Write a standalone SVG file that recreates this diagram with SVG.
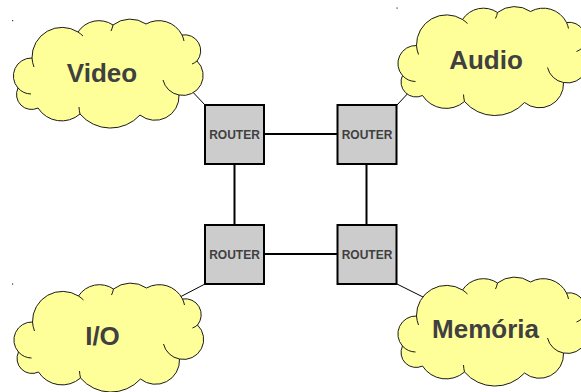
<svg xmlns="http://www.w3.org/2000/svg" xmlns:xlink="http://www.w3.org/1999/xlink" width="581" height="392" viewBox="0 0 581 392">
  <style>
    .cloud { fill: #ffff99; stroke: #1a1a1a; stroke-width: 1; }
    .hook { fill: none; stroke: #1a1a1a; stroke-width: 1; }
    .cloud-label { font-family: "Liberation Sans", Arial, sans-serif; font-weight: bold; font-size: 26px; fill: #404040; text-anchor: middle; }
    .router { fill: #cccccc; stroke: #000000; stroke-width: 2; }
    .router-label { font-family: "Liberation Sans", Arial, sans-serif; font-weight: bold; font-size: 12px; fill: #404040; text-anchor: middle; }
    .link { stroke: #000000; stroke-width: 2; fill: none; }
    .tap { stroke: #000000; stroke-width: 1; fill: none; }
  </style>
  <defs>
    <!-- cloud outline drawn with its top-left at about (12,20) -->
    <g id="cloud">
      <path class="cloud" d="M32,58 A30,30 0 0 1 78,32 A25,25 0 0 1 113,25 A28,28 0 0 1 146,24 A26,26 0 0 1 182,35 A16,16 0 0 1 197,61 A20,20 0 0 1 179,95 A24,24 0 0 1 140,115 A40,40 0 0 1 80,114 A28,28 0 0 1 38,108 A15,15 0 0 1 18,88 A18,18 0 0 1 32,58 Z"/>
      <path class="hook" d="M32,58 A30,30 0 0 0 34,67"/>
      <path class="hook" d="M18,88 A18,18 0 0 0 31,94"/>
      <path class="hook" d="M179,95 A20,20 0 0 1 163,80"/>
      <path class="hook" d="M78,32 A30,30 0 0 1 83,36"/>
      <path class="hook" d="M113,25 A25,25 0 0 1 111,31"/>
      <path class="hook" d="M182,35 A26,26 0 0 1 184,41"/>
      <path class="hook" d="M197,61 A16,16 0 0 1 192,64"/>
      <path class="hook" d="M80,114 A40,40 0 0 1 79,107"/>
    </g>
  </defs>

  <!-- connectors -->
  <g id="connectors">
    <line class="link" x1="264" y1="134" x2="338" y2="134"/>
    <line class="link" x1="264" y1="254" x2="338" y2="254"/>
    <line class="link" x1="234.5" y1="164" x2="234.5" y2="225"/>
    <line class="link" x1="366.5" y1="164" x2="366.5" y2="225"/>
    <line class="tap" x1="205" y1="105" x2="188" y2="87"/>
    <line class="tap" x1="397" y1="105" x2="412" y2="89"/>
    <line class="tap" x1="205" y1="284" x2="180" y2="297"/>
    <line class="tap" x1="397" y1="284" x2="425" y2="298"/>
  </g>

  <!-- routers -->
  <g id="router-tl">
    <rect class="router" x="205" y="105" width="59" height="59"/>
    <text class="router-label" x="234.5" y="138.5">ROUTER</text>
  </g>
  <g id="router-tr">
    <rect class="router" x="337.5" y="105" width="59" height="59"/>
    <text class="router-label" x="367" y="138.5">ROUTER</text>
  </g>
  <g id="router-bl">
    <rect class="router" x="205" y="225" width="59" height="59"/>
    <text class="router-label" x="234.5" y="258.5">ROUTER</text>
  </g>
  <g id="router-br">
    <rect class="router" x="337.5" y="225" width="59" height="59"/>
    <text class="router-label" x="367" y="258.5">ROUTER</text>
  </g>

  <!-- clouds -->
  <g id="video">
    <use xlink:href="#cloud" href="#cloud"/>
    <text class="cloud-label" x="102" y="82">Video</text>
  </g>
  <g id="audio">
    <use xlink:href="#cloud" href="#cloud" transform="translate(384.5,-12.5)"/>
    <text class="cloud-label" x="486" y="69">Audio</text>
  </g>
  <g id="io">
    <use xlink:href="#cloud" href="#cloud" transform="translate(0.5,264)"/>
    <text class="cloud-label" x="102.5" y="345">I/O</text>
  </g>
  <g id="memoria">
    <use xlink:href="#cloud" href="#cloud" transform="translate(384.5,258)"/>
    <text class="cloud-label" x="485.5" y="338">Memória</text>
  </g>

  <!-- stray marks -->
  <rect x="12" y="20" width="1.2" height="1.2" fill="#333"/>
  <rect x="396.5" y="7.5" width="1.2" height="1.2" fill="#333"/>
  <rect x="12" y="283.5" width="1.2" height="1.2" fill="#333"/>
</svg>
